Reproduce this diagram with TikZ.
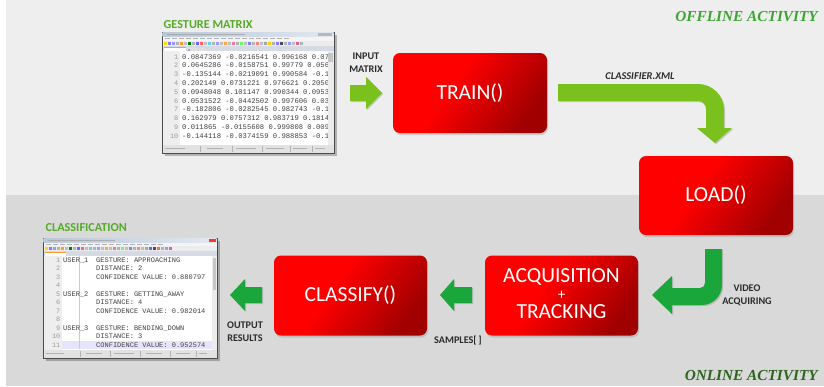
\documentclass[tikz,border=0pt]{standalone}
\usepackage{fontspec}
\setmainfont{Carlito}
\newfontfamily\monof{Liberation Mono}
\newfontfamily\seriff{Liberation Serif}
\usetikzlibrary{shadows}
\definecolor{bgtop}{HTML}{EEEEEE}
\definecolor{bgbot}{HTML}{D9D9D9}
\definecolor{boxred}{HTML}{FF0000}
\definecolor{boxdark}{HTML}{A00000}
\definecolor{lgreen}{RGB}{122,193,30}
\definecolor{dgreen}{RGB}{26,166,58}
\definecolor{labgray}{HTML}{2B2B2B}
\definecolor{offgreen}{RGB}{60,165,50}
\definecolor{ongreen}{RGB}{45,100,30}
\definecolor{titlegreen}{RGB}{85,170,40}
\definecolor{winframe}{HTML}{D6D9DE}
\definecolor{titleA}{HTML}{B8C7DA}
\definecolor{titleB}{HTML}{E2E8F0}
\definecolor{menuc}{HTML}{F4F4F4}
\definecolor{toolc}{HTML}{ECECEC}
\definecolor{tabbarc}{HTML}{D5DAE4}
\definecolor{gutterc}{HTML}{EEEEEE}
\definecolor{statusc}{HTML}{E2E2E2}
\definecolor{hilite}{HTML}{E6E4FA}
\definecolor{codec}{HTML}{404040}
\definecolor{numc}{HTML}{9A9A9A}
\pgfdeclarehorizontalshading{redgrad}{100bp}{color(0bp)=(boxred); color(42bp)=(boxred); color(75bp)=(boxdark); color(100bp)=(boxdark)}
\tikzset{
  redbox/.style={rounded corners=7pt, shading=redgrad, shading angle=-35, text=white,
    font=\fontsize{21.5}{17}\selectfont, align=center,
    drop shadow={shadow xshift=1pt, shadow yshift=-2pt, opacity=0.3}},
  boxtext/.style={text=white, font=\fontsize{21.5}{22}\selectfont, inner sep=0pt, anchor=base},
  lab/.style={font=\fontsize{10.2}{13}\selectfont\bfseries, text=labgray, align=center, inner sep=0pt},
  wintitle/.style={font=\fontsize{12.2}{14}\selectfont\bfseries, text=titlegreen, inner sep=0pt, anchor=west},
  actlab/.style={font=\fontsize{15.3}{17}\seriff\bfseries\itshape, inner sep=0pt, anchor=east},
  larrow/.style={fill=lgreen, drop shadow={shadow xshift=1.2pt, shadow yshift=-1.2pt, opacity=0.35}},
  darrow/.style={fill=dgreen, drop shadow={shadow xshift=1.2pt, shadow yshift=-1.2pt, opacity=0.35}},
  mcode/.style={font=\fontsize{7.2}{8}\monof, text=codec, inner sep=0pt, anchor=base west},
  ccode/.style={font=\fontsize{7}{8}\monof, text=codec, inner sep=0pt, anchor=base west},
  lnum/.style={font=\fontsize{6.8}{8}\monof, text=numc, inner sep=0pt, anchor=base east},
}
\begin{document}
\begin{tikzpicture}[x=1pt,y=-1pt]
\useasboundingbox (0,0) rectangle (824,386);
% backgrounds
\fill[bgtop] (0,0) rectangle (824,195);
\fill[bgbot] (0,195) rectangle (824,386);
\fill[white] (0,0) rectangle (6,386);

% ---------- gesture matrix window ----------
\fill[black, opacity=0.25] (164.5,34.5) rectangle (337,156);
\fill[winframe] (162,32) rectangle (334,153);
\draw[gray!60!black, line width=0.4pt] (162,32) rectangle (334,153);
\shade[left color=titleA, right color=titleB] (162.5,32.5) rectangle (333.5,36.5);
\fill[gray!65] (167,33.8) rectangle (245,35.2);
\fill[gray!55] (318,33.4) rectangle (332,35.8);
\fill[menuc] (162.5,36.5) rectangle (333.5,40.5);
\foreach \x in {165,172,...,284} \fill[gray!60] (\x,37.9) rectangle ++(5,1.2);
\fill[toolc] (162.5,40.5) rectangle (333.5,46);
\foreach \x/\c in {164/yellow!80!orange,168/blue!50,172/blue!40,176/gray!60,180/orange!80,184/gray!50,188/green!50!black,192/gray!60,196/blue!60,200/red!60,204/gray!50,208/cyan!60,212/gray!60,216/blue!40,220/gray!50,224/orange!70,228/gray!50,232/purple!50,236/gray!60,240/green!60,244/gray!50,248/blue!50,252/gray!60,256/red!50,260/gray!50,264/gray!70,268/yellow!70!orange,272/gray!60,276/blue!50,280/black!70,284/gray!60,288/blue!40,292/gray!50,296/purple!60,300/gray!60}
  \fill[\c] (\x,41.6) rectangle ++(3,3);
\fill[tabbarc] (162.5,46) rectangle (333.5,51);
\fill[white] (164,47) rectangle (186,51);
\fill[orange!80] (164,47) rectangle (186,47.8);
\fill[gray!25] (187,47.6) rectangle (206,51);
\fill[blue!40] (188,48.5) rectangle ++(2,2);
\fill[white] (162.5,51) rectangle (333.5,144.5);
\fill[gutterc] (162.5,51) rectangle (180,144.5);
\fill[gray!15] (327.5,51) rectangle (333.5,144.5);
\fill[gray!45] (328.3,52.5) rectangle (332.7,62);
\fill[statusc] (162.5,144.5) rectangle (333.5,152.5);
\foreach \x in {200,232,262,290,312} \draw[gray!60, line width=0.3pt] (\x,145.5) -- (\x,151.5);
\foreach \x/\w in {165/20,207/16,236/20,266/18,293/14,315/10} \fill[gray!60] (\x,147.8) rectangle ++(\w,1.2);
\foreach \i in {1,...,10} \node[lnum] (mn\i) at (178.5,{59+8.8*(\i-1)}) {\i};
\begin{scope}
\clip (180,51) rectangle (327.5,144.5);
\foreach \i/\t in {1/0.0847369 -0.0216541 0.996168 0.07,
                   2/0.0645286 -0.0158751 0.99779 0.056,
                   3/-0.135144 -0.0219091 0.990584 -0.1,
                   4/0.202149 0.0731221 0.976621 0.2050,
                   5/0.0948048 0.101147 0.990344 0.0953,
                   6/0.0531522 -0.0442502 0.997606 0.03,
                   7/-0.182806 -0.0282545 0.982743 -0.1,
                   8/0.162979 0.0757312 0.983719 0.1814,
                   9/0.011865 -0.0155608 0.999808 0.009,
                   10/-0.144118 -0.0374159 0.988853 -0.1}
  \node[mcode] (m\i) at (182,{59+8.8*(\i-1)}) {\t};
\end{scope}
\node[wintitle] (gm) at (163.5,25) {GESTURE MATRIX};

% ---------- classification window ----------
\fill[black, opacity=0.25] (45.5,240.5) rectangle (220,361);
\fill[winframe] (43,238) rectangle (217,358);
\draw[gray!60!black, line width=0.4pt] (43,238) rectangle (217,358);
\shade[left color=titleA, right color=titleB] (43.5,238.5) rectangle (216.5,242.5);
\fill[gray!65] (48,239.8) rectangle (115,241.2);
\fill[red!80] (209,238.7) rectangle (216,242.3);
\fill[menuc] (43.5,242.5) rectangle (216.5,246.3);
\foreach \x in {46,53,...,160} \fill[gray!60] (\x,243.8) rectangle ++(5,1.2);
\fill[toolc] (43.5,246.3) rectangle (216.5,251.3);
\foreach \x/\c in {45/yellow!80!orange,49/blue!50,53/blue!40,57/gray!60,61/orange!80,65/gray!50,69/green!50!black,73/gray!60,77/blue!60,81/red!60,85/gray!50,89/cyan!60,93/gray!60,97/blue!40,101/gray!50,105/orange!70,109/gray!50,113/purple!50,117/gray!60,121/green!60,125/gray!50,129/blue!50,133/gray!60,137/red!50,141/gray!50,145/gray!70,149/blue!60,153/black!70,157/red!60,161/gray!60,165/blue!40,169/purple!60}
  \fill[\c] (\x,247.2) rectangle ++(3,3);
\fill[tabbarc] (43.5,251.3) rectangle (216.5,255.5);
\fill[white] (45,252) rectangle (66,255.5);
\fill[orange!80] (45,252) rectangle (66,252.7);
\fill[white] (43.5,255.5) rectangle (216.5,350);
\fill[gutterc] (43.5,255.5) rectangle (62,350);
\fill[hilite] (62,341) rectangle (212,349.3);
\draw[gray!40, line width=0.3pt] (79.5,256) -- (79.5,349);
\fill[gray!15] (212,255.5) rectangle (216.5,350);
\fill[gray!45] (212.7,257.5) rectangle (215.8,290);
\fill[statusc] (43.5,350) rectangle (216.5,357.5);
\foreach \x in {80,110,140,170,196} \draw[gray!60, line width=0.3pt] (\x,351) -- (\x,356.5);
\foreach \x/\w in {46/18,86/16,114/20,146/16,176/14,199/8} \fill[gray!60] (\x,353.2) rectangle ++(\w,1.2);
\foreach \i in {1,...,11} \node[lnum] (cn\i) at (60.5,{262.3+8.5*(\i-1)}) {\i};
\node[ccode] (u1) at (63,262.3) {USER\_1};
\node[ccode] (u2) at (63,{262.3+8.5*4}) {USER\_2};
\node[ccode] (u3) at (63,{262.3+8.5*8}) {USER\_3};
\foreach \i/\t in {1/GESTURE: APPROACHING,
                   2/DISTANCE: 2,
                   3/CONFIDENCE VALUE: 0.880797,
                   5/GESTURE: GETTING\_AWAY,
                   6/DISTANCE: 4,
                   7/CONFIDENCE VALUE: 0.982014,
                   9/GESTURE: BENDING\_DOWN,
                   10/DISTANCE: 3,
                   11/CONFIDENCE VALUE: 0.952574}
  \node[ccode] (c\i) at (96,{262.3+8.5*(\i-1)}) {\t};
\node[wintitle] (cl) at (45.5,228) {CLASSIFICATION};

% ---------- red boxes ----------
\node[redbox, minimum width=154pt, minimum height=80pt] (train) at (470,93) {TRAIN()};
\node[redbox, minimum width=154pt, minimum height=79pt] (load) at (716,195.5) {LOAD()};
\node[redbox, minimum width=153pt, minimum height=80pt] (acq) at (561.5,295.5) {};
\node[boxtext] (acqa) at (561.5,282.5) {ACQUISITION};
\node[boxtext, font=\fontsize{15}{15}\selectfont] (acqp) at (561.5,299) {+};
\node[boxtext] (acqb) at (561.5,318.5) {TRACKING};
\node[redbox, minimum width=153pt, minimum height=80pt] (cls) at (350.5,295.5) {CLASSIFY()};

% ---------- green block arrows ----------
% input matrix -> train
\fill[larrow] (350,85) -- (366,85) -- (366,77) -- (382,93) -- (366,109) -- (366,101) -- (350,101) -- cycle;
% train -> load (bent)
\fill[larrow] (558,84) -- (698,84) .. controls (712.4,84) and (724,95.6) .. (724,110)
  -- (724,128) -- (732,128) -- (715,143) -- (697,128) -- (706,128) -- (706,109)
  .. controls (706,104.6) and (702.4,101) .. (698,101) -- (558,101) -- cycle;
% load -> acquisition (bent)
\fill[darrow] (705,249) -- (722,249) -- (722,285) .. controls (722,296) and (713,305) .. (702,305)
  -- (672,305) -- (672,314) -- (652,295) -- (672,276) -- (672,288) -- (700,288)
  .. controls (702.8,288) and (705,285.8) .. (705,283) -- cycle;
% acquisition -> classify
\fill[darrow] (472,287) -- (454,287) -- (454,279) -- (440,295) -- (454,311) -- (454,303) -- (472,303) -- cycle;
% classify -> output
\fill[darrow] (262,287) -- (245,287) -- (245,279) -- (230,295) -- (245,311) -- (245,303) -- (262,303) -- cycle;

% ---------- labels ----------
\node[lab] (inlab) at (366,62.5) {INPUT\\MATRIX};
\node[lab, font=\fontsize{10.4}{13}\selectfont\bfseries\itshape] (xml) at (640,76) {CLASSIFIER.XML};
\node[lab] (vid) at (747,295) {VIDEO\\ACQUIRING};
\node[lab] (out) at (245,332) {OUTPUT\\RESULTS};
\node[lab] (samp) at (458,341) {SAMPLES[\,]};
\node[actlab, text=offgreen] (off) at (818,17) {OFFLINE ACTIVITY};
\node[actlab, text=ongreen] (on) at (818,376) {ONLINE ACTIVITY};
\end{tikzpicture}
\end{document}
